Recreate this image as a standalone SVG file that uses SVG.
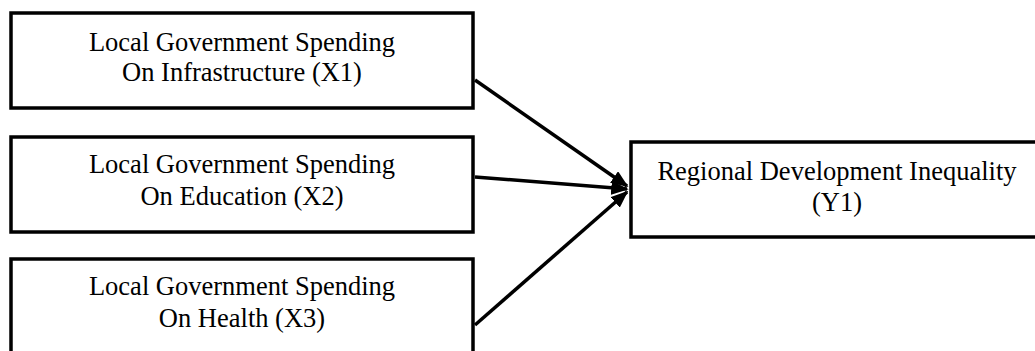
<svg xmlns="http://www.w3.org/2000/svg" width="1035" height="351" viewBox="0 0 1035 351">
<style>
.box{fill:#fff;stroke:#000;stroke-width:3.5}
.t{font-family:"Liberation Serif","Times New Roman",serif;font-size:26.5px;fill:#000;text-anchor:middle}
.c{stroke:#000;stroke-width:3.5;fill:none}
</style>
<defs>
<marker id="ah" viewBox="0 0 10 8" refX="9" refY="4" markerWidth="5" markerHeight="4" orient="auto" markerUnits="strokeWidth">
<path d="M0,0 L10,4 L0,8 z" fill="#000"/>
</marker>
</defs>
<rect width="1035" height="351" fill="#fff"/>
<g id="x1">
<rect class="box" x="11" y="13" width="462" height="95"/>
<text class="t" x="242" y="51">Local Government Spending</text>
<text class="t" x="242" y="81">On Infrastructure (X1)</text>
</g>
<g id="x2">
<rect class="box" x="11" y="137" width="462" height="95"/>
<text class="t" x="242" y="173">Local Government Spending</text>
<text class="t" x="242" y="205">On Education (X2)</text>
</g>
<g id="x3">
<rect class="box" x="11" y="259" width="462" height="100"/>
<text class="t" x="242" y="295">Local Government Spending</text>
<text class="t" x="242" y="327">On Health (X3)</text>
</g>
<g id="y1">
<rect class="box" x="631" y="142" width="412" height="95"/>
<text class="t" x="837" y="180">Regional Development Inequality</text>
<text class="t" x="837" y="211">(Y1)</text>
</g>
<g id="connectors">
<line class="c" x1="475" y1="80" x2="627" y2="186" marker-end="url(#ah)"/>
<line class="c" x1="475" y1="177" x2="627" y2="189" marker-end="url(#ah)"/>
<line class="c" x1="475" y1="325" x2="627" y2="192" marker-end="url(#ah)"/>
</g>
</svg>
